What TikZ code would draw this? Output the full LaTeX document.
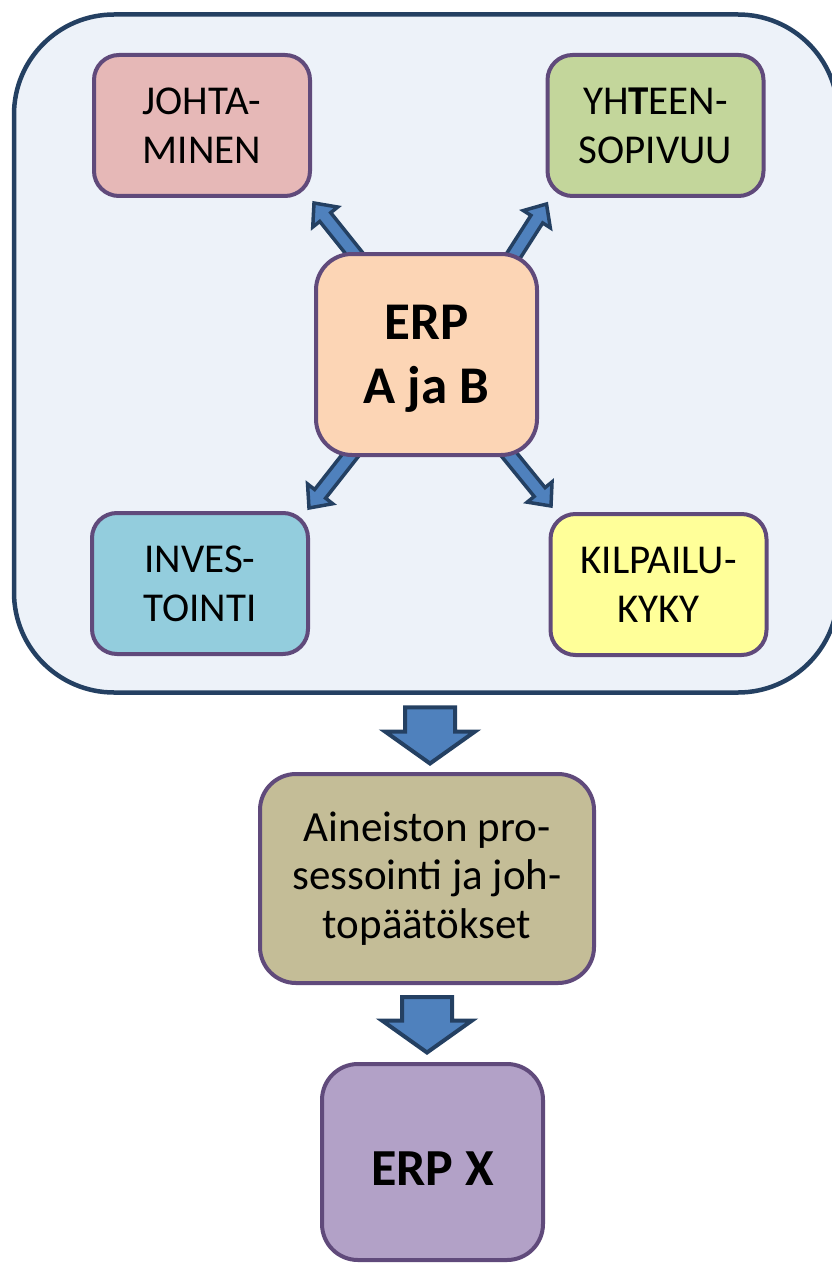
\documentclass[tikz,border=0pt]{standalone}
\usepackage{fontspec}
\setmainfont{Carlito}
\usetikzlibrary{positioning, calc, backgrounds}

\definecolor{boxline}{RGB}{96,74,123}
\definecolor{outerline}{RGB}{36,64,98}
\definecolor{outerfill}{RGB}{237,242,249}
\definecolor{arrowline}{RGB}{36,64,98}
\definecolor{arrowfill}{RGB}{79,129,189}
\definecolor{johtafill}{RGB}{230,184,183}
\definecolor{yhtfill}{RGB}{195,214,155}
\definecolor{erpfill}{RGB}{252,213,181}
\definecolor{invfill}{RGB}{147,205,221}
\definecolor{kilfill}{RGB}{255,255,153}
\definecolor{ainfill}{RGB}{196,189,151}
\definecolor{erpxfill}{RGB}{178,161,199}

% block arrow: tail, tip, half shaft, half head, head length
\newcommand\blockarrow[5]{%
	\coordinate (ba-h) at ($(#2)!#5!(#1)$);
	\draw[arrowbody] ($(#1)!#3!90:(#2)$) -- ($(ba-h)!#3!-90:(#1)$) -- ($(ba-h)!#4!-90:(#1)$)
		-- (#2) -- ($(ba-h)!#4!90:(#1)$) -- ($(ba-h)!#3!90:(#1)$) -- ($(#1)!#3!-90:(#2)$) -- cycle;
}

\begin{document}
\begin{tikzpicture}[x=1pt, y=-1pt,
	box/.style={draw=boxline, line width=4pt, rounded corners=25pt, align=center, inner sep=0pt,
		minimum width=216pt, minimum height=141pt, font=\fontsize{41}{49}\selectfont},
	bigbox/.style={box, rounded corners=36pt, minimum width=221pt, font=\fontsize{53}{64}\selectfont\bfseries},
	arrowbody/.style={draw=arrowline, fill=arrowfill, line width=3.5pt}]
\useasboundingbox (0,0) rectangle (831,1265);

\node[box, fill=johtafill] (johta) at (202,125.5) {JOHTA-\\MINEN};
\node[box, fill=yhtfill] (yht) at (655.5,125.5) {YH\textbf{T}EEN-\\SOPIVUU};
\node[bigbox, fill=erpfill, minimum height=201pt, text height=106pt] (erp) at (426.5,354.5) {ERP\\A ja B};
\node[box, fill=invfill] (inv) at (200,583.5) {INVES-\\TOINTI};
\node[box, fill=kilfill] (kil) at (658.5,584.5) {KILPAILU-\\KYKY};
\node[box, fill=ainfill, rounded corners=36pt, minimum width=334pt, minimum height=209pt,
	font=\fontsize{43}{48.5}\selectfont] (ain) at (427,878.5)
	{Aineiston pro-\\sessointi ja joh-\\topäätökset};
\node[bigbox, fill=erpxfill, minimum height=196pt, text height=47pt,
	font=\fontsize{52}{60}\selectfont\bfseries] (erpx) at (432.5,1162) {ERP X};

\coordinate (t1) at ($(erp)+(-68.5,-96.5)$);
\coordinate (t2) at ($(erp)+(85.5,-96.5)$);
\coordinate (t3) at ($(erp)+(-73.5,97.5)$);
\coordinate (t4) at ($(erp)+(80.5,97.5)$);
\coordinate (h1) at ($(johta.south east)+(2,5)$);
\coordinate (h2) at ($(yht.south west)+(1,6)$);
\coordinate (h3) at ($(inv.north east)+(-1,-3)$);
\coordinate (h4) at ($(kil.north west)+(2.5,-6)$);

\begin{scope}[on background layer]
	\node[draw=outerline, fill=outerfill, line width=4.5pt, rounded corners=100pt,
		minimum width=824pt, minimum height=678pt] (outer) at (426,353.5) {};
	\foreach \i in {1,...,4}
		{\blockarrow{t\i}{h\i}{7pt}{16pt}{18pt}}
\end{scope}

% down arrows
\coordinate (d1) at ($(ain.north |- outer.south)+(3,12.5)$);
\coordinate (e1) at ($(ain.north)+(3,-8.5)$);
\coordinate (d2) at ($(ain.south)+(0,12)$);
\coordinate (e2) at ($(ain.south |- erpx.north)+(0,-9.5)$);
\begin{scope}[arrowbody/.append style={line width=4pt}]
	\blockarrow{d1}{e1}{25pt}{45pt}{32pt}
	\blockarrow{d2}{e2}{25pt}{45pt}{32pt}
\end{scope}
\end{tikzpicture}
\end{document}
